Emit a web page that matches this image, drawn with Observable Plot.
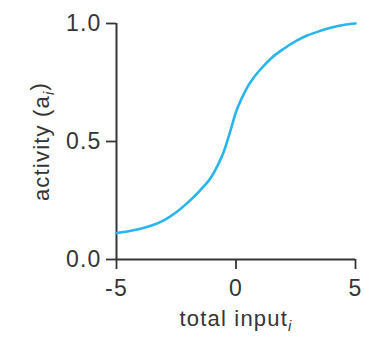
<!DOCTYPE html>
<html>
<head>
<meta charset="utf-8">
<script src="https://cdn.jsdelivr.net/npm/d3@7"></script>
<script src="https://cdn.jsdelivr.net/npm/@observablehq/plot@0.6"></script>
<style>
  html, body { margin: 0; padding: 0; background: #fff; }
  #chart svg { display: block; }
</style>
</head>
<body>
<div id="chart"></div>
<script>
const totalInput = [-5, -4.5, -4, -3.5, -3, -2.5, -2, -1.5, -1, -0.75, -0.5, -0.25, 0, 0.25, 0.5, 0.75, 1, 1.5, 2, 2.5, 3, 3.5, 4, 4.5, 5];
const activity   = [0.112, 0.12, 0.13, 0.145, 0.167, 0.2, 0.243, 0.293, 0.355, 0.402, 0.46, 0.54, 0.625, 0.685, 0.735, 0.772, 0.803, 0.855, 0.893, 0.925, 0.95, 0.968, 0.983, 0.994, 1.0];
const xTicks = [-5, 0, 5];
const yTicks = [0, 0.5, 1];
const xLabel = "total input";
const yLabel = "activity (a";

const data = totalInput.map((x, i) => ({x, y: activity[i]}));
const ink = "#353535";

const chart = Plot.plot({
  width: 365,
  height: 337,
  marginLeft: 116,
  marginRight: 10,
  marginTop: 23,
  marginBottom: 78,
  style: {fontFamily: "'Liberation Sans', Arial, sans-serif", fontSize: "23px", color: ink, background: "#fff", letterSpacing: "1.2px"},
  x: {domain: [-5, 5]},
  y: {domain: [0, 1]},
  marks: [
    Plot.axisX({ticks: xTicks, tickSize: 10, tickPadding: 10, tickFormat: d => d < 0 ? "-" + Math.abs(d) : String(d), label: null, fontSize: 23, stroke: ink, strokeWidth: 1.8}),
    Plot.axisY({ticks: yTicks, tickSize: 10, tickPadding: 5, tickFormat: d3.format(".1f"), label: null, fontSize: 23, stroke: ink, strokeWidth: 1.8}),
    Plot.ruleX([-5], {y1: 0, y2: 1, stroke: ink, strokeWidth: 2}),
    Plot.ruleY([0], {x1: -5, x2: 5, stroke: ink, strokeWidth: 2}),
    Plot.line(data, {x: "x", y: "y", stroke: "#29b5ee", strokeWidth: 2.6, curve: "monotone-x"}),
    Plot.text([xLabel], {frameAnchor: "bottom", text: d => d, dy: 66, fontSize: 22, fill: ink, textAnchor: "middle"}),
    Plot.text([yLabel], {frameAnchor: "left", text: d => d, rotate: -90, dx: -75, fontSize: 22, fill: ink, textAnchor: "middle", lineAnchor: "middle"})
  ]
});

document.getElementById("chart").appendChild(chart);

// add italic subscripts "i" to the axis titles
d3.select(chart).selectAll("text").each(function() {
  const t = d3.select(this);
  const s = this.textContent;
  if (s === xLabel) {
    t.append("tspan").attr("font-size", 15).attr("font-style", "italic").attr("dy", "0.35em").text("i");
  } else if (s === yLabel) {
    t.append("tspan").attr("font-size", 15).attr("font-style", "italic").attr("dy", "0.35em").text("i");
    t.append("tspan").attr("dy", "-0.35em").text(")");
  }
});
</script>
</body>
</html>
